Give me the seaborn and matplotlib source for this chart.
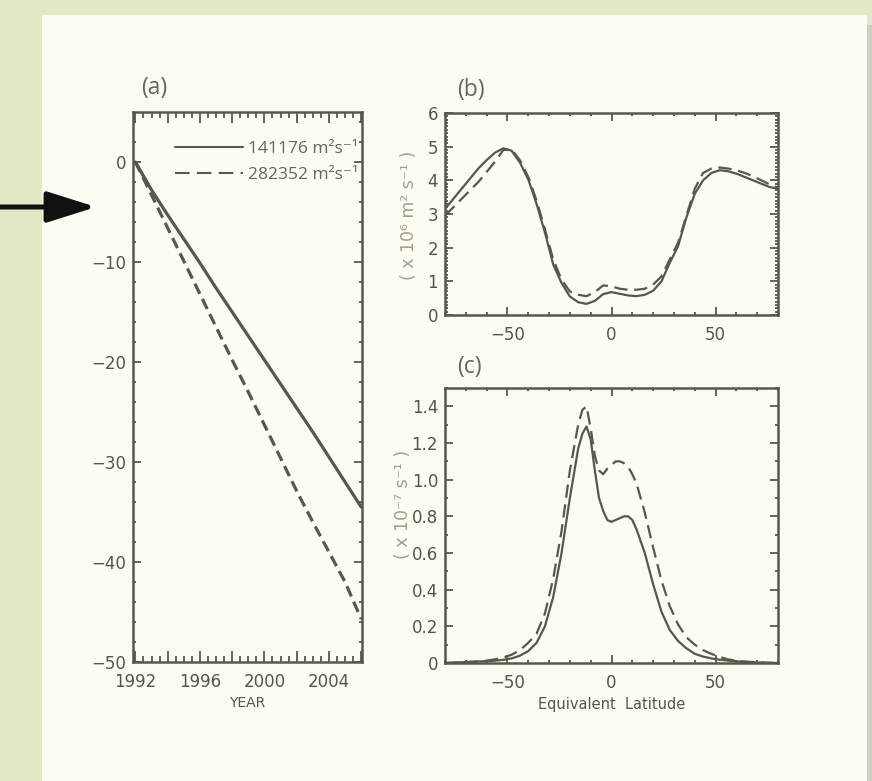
import matplotlib
matplotlib.use('Agg')
import matplotlib.pyplot as plt
import seaborn as sns
from matplotlib.ticker import MultipleLocator, FuncFormatter
from matplotlib.patches import Rectangle, FancyArrowPatch
from matplotlib.lines import Line2D

# (a) cumulative drift per year for the two diffusivities
years = [1992, 1993, 1994, 1995, 1996, 1997, 1998, 1999, 2000, 2001, 2002, 2003, 2004, 2005, 2006]
drift_k1 = [0.0, -2.8, -5.3, -7.7, -10.1, -12.6, -15.0, -17.4, -19.8, -22.2, -24.6, -27.0, -29.5, -32.0, -34.5]
drift_k2 = [0.0, -3.3, -6.6, -9.9, -13.2, -16.5, -19.8, -23.0, -26.3, -29.6, -32.9, -36.0, -39.0, -42.0, -45.7]

# (b) effective diffusivity (x 10^6 m2 s-1) vs equivalent latitude
lat_b = [-80, -76, -72, -68, -64, -60, -56, -52, -48, -44, -40, -36, -32, -28, -24, -20, -16, -12, -8, -4,
         0, 4, 8, 12, 16, 20, 24, 28, 32, 36, 40, 44, 48, 52, 56, 60, 64, 68, 72, 76, 80]
kappa_k1 = [3.15, 3.45, 3.75, 4.05, 4.35, 4.60, 4.82, 4.95, 4.88, 4.53, 4.03, 3.30, 2.45, 1.50, 0.95, 0.55,
            0.38, 0.33, 0.42, 0.62, 0.68, 0.63, 0.58, 0.56, 0.60, 0.72, 1.00, 1.55, 2.05, 2.90, 3.60, 4.00,
            4.22, 4.30, 4.27, 4.20, 4.10, 4.00, 3.90, 3.80, 3.75]
kappa_k2 = [2.95, 3.20, 3.45, 3.70, 3.95, 4.25, 4.55, 4.90, 4.92, 4.60, 4.10, 3.40, 2.55, 1.65, 1.05, 0.70,
            0.60, 0.56, 0.68, 0.88, 0.85, 0.78, 0.75, 0.75, 0.78, 0.90, 1.15, 1.65, 2.15, 2.95, 3.75, 4.22,
            4.35, 4.38, 4.35, 4.30, 4.22, 4.12, 4.00, 3.88, 3.78]

# (c) rate (x 10^-7 s-1) vs equivalent latitude
lat_c = [-80, -76, -72, -68, -64, -60, -56, -52, -48, -44, -40, -36, -32, -28, -24, -20, -16,
         -14, -12, -10, -8, -6, -4, -2, 0, 2, 4, 6, 8, 10, 12,
         16, 20, 24, 28, 32, 36, 40, 44, 48, 52, 56, 60, 64, 68, 72, 76, 80]
rate_k1 = [0.0, 0.002, 0.004, 0.006, 0.008, 0.01, 0.013, 0.017, 0.025, 0.04, 0.065, 0.11, 0.20, 0.36, 0.60, 0.90, 1.17,
           1.25, 1.29, 1.22, 1.05, 0.90, 0.83, 0.78, 0.77, 0.78, 0.79, 0.80, 0.80, 0.78, 0.73,
           0.60, 0.43, 0.28, 0.18, 0.12, 0.08, 0.05, 0.035, 0.025, 0.018, 0.013, 0.009, 0.006, 0.004, 0.002, 0.001, 0.0]
rate_k2 = [0.0, 0.002, 0.004, 0.006, 0.009, 0.013, 0.02, 0.03, 0.045, 0.07, 0.11, 0.16, 0.27, 0.46, 0.72, 1.05, 1.30,
           1.38, 1.40, 1.28, 1.13, 1.05, 1.03, 1.06, 1.08, 1.10, 1.10, 1.09, 1.07, 1.03, 0.98,
           0.82, 0.63, 0.45, 0.31, 0.21, 0.14, 0.10, 0.07, 0.05, 0.033, 0.02, 0.012, 0.008, 0.005, 0.003, 0.001, 0.0]

legend_labels = ['141176 m²s⁻¹', '282352 m²s⁻¹']

# 색상
ink = '#57574a'
soft = '#a69e8c'
cream = '#fcfcf2'
green = '#e2e7c4'

sns.set_theme(style='ticks')
plt.rcParams['font.family'] = ['DejaVu Sans']
plt.rcParams['axes.edgecolor'] = ink
plt.rcParams['xtick.color'] = ink
plt.rcParams['ytick.color'] = ink

W, H = 872, 781
fig = plt.figure(figsize=(W / 100, H / 100), dpi=100, facecolor=green)

# cream card behind everything
fig.patches.append(Rectangle((42 / W, 0), (867 - 42) / W, 1 - 15 / H, transform=fig.transFigure,
                             facecolor=cream, edgecolor='none', zorder=-5))
fig.patches.append(Rectangle((867 / W, 0), 5 / W, 1 - 25 / H, transform=fig.transFigure,
                             facecolor='#cfd1b8', edgecolor='none', zorder=-5))


def px_axes(x0, y0, x1, y1):
    return fig.add_axes([x0 / W, 1 - y1 / H, (x1 - x0) / W, (y1 - y0) / H])


def style_axes(ax):
    ax.set_facecolor(cream)
    for s in ax.spines.values():
        s.set_visible(True)
        s.set_linewidth(1.8)
        s.set_color(ink)
    ax.tick_params(which='both', direction='in', top=True, right=True, width=1.3, colors=ink,
                   labelsize=12, labelcolor='#555548')
    ax.tick_params(which='major', length=5.5)
    ax.tick_params(which='minor', length=2.5)
    ax.tick_params(axis='x', pad=8)
    ax.tick_params(axis='y', pad=5)


# (a)
ax_a = px_axes(133, 112, 362, 662)
style_axes(ax_a)
sns.lineplot(x=years, y=drift_k1, ax=ax_a, color=ink, lw=2.3)
sns.lineplot(x=years, y=drift_k2, ax=ax_a, color=ink, lw=2.3, linestyle=(0, (3.5, 1.8)))
ax_a.set_xlim(1991.85, 2006.05)
ax_a.set_ylim(-50, 5)
ax_a.xaxis.set_major_locator(MultipleLocator(2))
ax_a.xaxis.set_minor_locator(MultipleLocator(0.5))
ax_a.xaxis.set_major_formatter(FuncFormatter(lambda v, p: f'{int(round(v))}' if round(v) % 4 == 0 else ''))
ax_a.yaxis.set_major_locator(MultipleLocator(10))
ax_a.yaxis.set_minor_locator(MultipleLocator(2))
ax_a.tick_params(axis='x', which='major', length=8)
ax_a.tick_params(axis='x', which='minor', length=4)
ax_a.set_xlabel('YEAR', fontsize=10, color='#555548')
ax_a.xaxis.set_label_coords(0.5, -0.062)
ax_a.set_ylabel('')

handles = [Line2D([], [], color=ink, lw=1.5),
           Line2D([], [], color=ink, lw=1.5, linestyle=(0, (7, 3.5)))]
leg = ax_a.legend(handles, legend_labels, loc='upper right', bbox_to_anchor=(1.012, 0.96),
                  frameon=False, handlelength=3.9, handletextpad=0.28, labelspacing=0.55,
                  borderaxespad=0, prop={'family': ['Open Sans', 'DejaVu Sans'], 'size': 12.5})
for t in leg.get_texts():
    t.set_color('#66665a')

# (b)
ax_b = px_axes(445, 113, 778, 315)
style_axes(ax_b)
sns.lineplot(x=lat_b, y=kappa_k1, ax=ax_b, color=ink, lw=1.6)
sns.lineplot(x=lat_b, y=kappa_k2, ax=ax_b, color=ink, lw=1.6, linestyle=(0, (6, 3)))
ax_b.set_xlim(-80, 80)
ax_b.set_ylim(0, 6)
ax_b.xaxis.set_major_locator(MultipleLocator(50))
ax_b.xaxis.set_minor_locator(MultipleLocator(10))
ax_b.yaxis.set_major_locator(MultipleLocator(1))
ax_b.yaxis.set_minor_locator(MultipleLocator(0.1))
ax_b.tick_params(axis='y', which='minor', length=2)
ax_b.set_ylabel('( x 10⁶ m² s⁻¹ )', fontsize=12.5, color=soft)
ax_b.yaxis.set_label_coords(-0.08, 0.495)
ax_b.set_xlabel('')

# (c)
ax_c = px_axes(445, 388, 778, 663)
style_axes(ax_c)
sns.lineplot(x=lat_c, y=rate_k1, ax=ax_c, color=ink, lw=1.6)
sns.lineplot(x=lat_c, y=rate_k2, ax=ax_c, color=ink, lw=1.6, linestyle=(0, (6, 3)))
ax_c.set_xlim(-80, 80)
ax_c.set_ylim(0, 1.5)
ax_c.xaxis.set_major_locator(MultipleLocator(50))
ax_c.xaxis.set_minor_locator(MultipleLocator(10))
ax_c.yaxis.set_major_locator(MultipleLocator(0.2))
ax_c.yaxis.set_minor_locator(MultipleLocator(0.1))
ax_c.yaxis.set_major_formatter(FuncFormatter(lambda v, p: '0' if abs(v) < 1e-9 else f'{v:.1f}'))
ax_c.set_ylabel('( x 10⁻⁷ s⁻¹ )', fontsize=12.5, color=soft)
ax_c.yaxis.set_label_coords(-0.1, 0.575)
ax_c.set_xlabel('Equivalent  Latitude', fontsize=10.5, color='#555548')
ax_c.xaxis.set_label_coords(0.5, -0.122)

# panel letters
for letter, x, y in [('(a)', 141, 88), ('(b)', 457, 90), ('(c)', 457, 367)]:
    fig.text(x / W, 1 - y / H, letter, fontsize=16.5, color='#66665a', va='center', ha='left',
             family=['Open Sans', 'DejaVu Sans'])

# arrow on the left
fig.add_artist(FancyArrowPatch(
    (0 / W, 1 - 207 / H), (96 / W, 1 - 207 / H), transform=fig.transFigure,
    arrowstyle='-|>,head_length=3.0,head_width=0.95', mutation_scale=10,
    color='#111111', lw=3.6, shrinkA=0, shrinkB=0))

fig.savefig('out.png', dpi=100, facecolor=green)
